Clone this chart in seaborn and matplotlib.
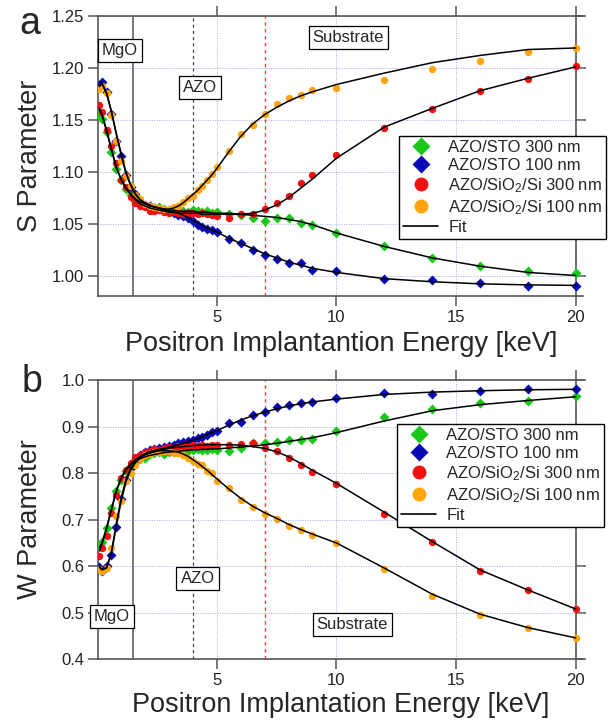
import numpy as np
import pandas as pd
import matplotlib
matplotlib.use("Agg")
import matplotlib.pyplot as plt
from matplotlib.lines import Line2D
import seaborn as sns

# ---------------- data ----------------
energy = [0.1, 0.2, 0.4, 0.6, 0.8, 1.0, 1.2, 1.4, 1.6, 1.8, 2.0, 2.2, 2.4, 2.6, 2.8,
          3.0, 3.2, 3.4, 3.6, 3.8, 4.0, 4.2, 4.4, 4.6, 4.8, 5.0, 5.5, 6.0, 6.5, 7.0,
          7.5, 8.0, 8.5, 9.0, 10, 12, 14, 16, 18, 20]

labels = ["AZO/STO 300 nm", "AZO/STO 100 nm",
          "AZO/SiO$_2$/Si 300 nm", "AZO/SiO$_2$/Si 100 nm"]

# S parameter, measured
S_sto300 = [1.156, 1.151, 1.138, 1.119, 1.103, 1.092, 1.083, 1.078, 1.072, 1.069, 1.067, 1.066, 1.065, 1.066, 1.064,
            1.063, 1.062, 1.063, 1.062, 1.061, 1.063, 1.062, 1.061, 1.062, 1.060, 1.061, 1.059, 1.058, 1.055, 1.053,
            1.055, 1.055, 1.051, 1.049, 1.041, 1.028, 1.017, 1.009, 1.004, 1.002]
S_sto100 = [1.184, 1.186, 1.177, 1.156, 1.130, 1.115, 1.097, 1.085, 1.079, 1.071, 1.068, 1.067, 1.065, 1.064, 1.063,
            1.062, 1.060, 1.058, 1.057, 1.055, 1.053, 1.049, 1.047, 1.045, 1.044, 1.042, 1.035, 1.031, 1.025, 1.020,
            1.016, 1.012, 1.012, 1.005, 1.004, 0.997, 0.996, 0.993, 0.990, 0.990]
S_si300 = [1.164, 1.158, 1.140, 1.125, 1.108, 1.092, 1.085, 1.076, 1.070, 1.067, 1.066, 1.062, 1.062, 1.063, 1.061,
           1.060, 1.061, 1.060, 1.059, 1.060, 1.060, 1.059, 1.060, 1.059, 1.058, 1.057, 1.055, 1.059, 1.059, 1.064,
           1.070, 1.077, 1.089, 1.097, 1.116, 1.142, 1.160, 1.1775, 1.1895, 1.2015]
S_si100 = [1.180, 1.183, 1.176, 1.155, 1.130, 1.110, 1.096, 1.086, 1.078, 1.074, 1.069, 1.067, 1.066, 1.065, 1.064,
           1.064, 1.066, 1.067, 1.071, 1.075, 1.077, 1.082, 1.086, 1.092, 1.098, 1.105, 1.120, 1.136, 1.145, 1.156,
           1.165, 1.171, 1.174, 1.179, 1.181, 1.188, 1.199, 1.207, 1.215, 1.219]

# S parameter, fits
S_fit_sto300 = [1.160, 1.155, 1.139, 1.121, 1.104, 1.093, 1.085, 1.079, 1.074, 1.071, 1.069, 1.067, 1.066, 1.065, 1.064,
                1.063, 1.063, 1.062, 1.062, 1.062, 1.062, 1.061, 1.061, 1.061, 1.060, 1.060, 1.060, 1.059, 1.058, 1.057,
                1.056, 1.054, 1.052, 1.049, 1.041, 1.028, 1.017, 1.009, 1.003, 1.000]
S_fit_sto100 = [1.183, 1.186, 1.176, 1.158, 1.137, 1.117, 1.099, 1.087, 1.078, 1.073, 1.070, 1.068, 1.066, 1.065, 1.063,
                1.062, 1.061, 1.060, 1.058, 1.056, 1.053, 1.051, 1.048, 1.046, 1.044, 1.042, 1.036, 1.031, 1.026, 1.021,
                1.017, 1.013, 1.010, 1.007, 1.003, 0.997, 0.994, 0.992, 0.991, 0.9905]
S_fit_si300 = [1.161, 1.156, 1.140, 1.122, 1.105, 1.093, 1.084, 1.078, 1.073, 1.069, 1.067, 1.065, 1.064, 1.063, 1.062,
               1.061, 1.061, 1.060, 1.060, 1.060, 1.060, 1.060, 1.059, 1.059, 1.059, 1.059, 1.059, 1.059, 1.060, 1.063,
               1.068, 1.075, 1.084, 1.093, 1.113, 1.143, 1.161, 1.178, 1.190, 1.201]
S_fit_si100 = [1.182, 1.185, 1.175, 1.158, 1.137, 1.118, 1.100, 1.088, 1.079, 1.073, 1.070, 1.067, 1.066, 1.065, 1.064,
               1.064, 1.065, 1.067, 1.070, 1.074, 1.078, 1.082, 1.087, 1.092, 1.097, 1.103, 1.119, 1.134, 1.146, 1.155,
               1.162, 1.168, 1.173, 1.177, 1.184, 1.195, 1.205, 1.212, 1.2177, 1.2192]

# W parameter, measured
W_sto300 = [0.644, 0.653, 0.682, 0.725, 0.762, 0.785, 0.805, 0.815, 0.828, 0.830, 0.833, 0.840, 0.843, 0.846, 0.842,
            0.845, 0.848, 0.846, 0.850, 0.848, 0.850, 0.851, 0.850, 0.849, 0.852, 0.850, 0.848, 0.855, 0.864, 0.8655,
            0.8677, 0.871, 0.871, 0.874, 0.8906, 0.9213, 0.9378, 0.950, 0.955, 0.9657]
W_sto100 = [0.598, 0.590, 0.600, 0.625, 0.685, 0.745, 0.785, 0.812, 0.826, 0.838, 0.845, 0.850, 0.851, 0.853, 0.857,
            0.858, 0.860, 0.864, 0.866, 0.869, 0.871, 0.875, 0.878, 0.882, 0.889, 0.891, 0.907, 0.910, 0.925, 0.931,
            0.943, 0.946, 0.950, 0.9535, 0.961, 0.9714, 0.969, 0.9764, 0.980, 0.980]
W_si300 = [0.622, 0.640, 0.664, 0.714, 0.753, 0.790, 0.807, 0.822, 0.834, 0.838, 0.845, 0.848, 0.852, 0.850, 0.854,
           0.857, 0.855, 0.858, 0.859, 0.857, 0.860, 0.858, 0.861, 0.858, 0.860, 0.861, 0.860, 0.862, 0.864, 0.855,
           0.848, 0.832, 0.818, 0.803, 0.777, 0.7124, 0.653, 0.590, 0.548, 0.508]
W_si100 = [0.594, 0.589, 0.596, 0.640, 0.707, 0.740, 0.782, 0.800, 0.818, 0.830, 0.838, 0.842, 0.845, 0.846, 0.848,
           0.847, 0.844, 0.843, 0.838, 0.832, 0.826, 0.820, 0.8176, 0.805, 0.800, 0.782, 0.768, 0.742, 0.728, 0.7124,
           0.702, 0.687, 0.678, 0.667, 0.6495, 0.594, 0.537, 0.496, 0.468, 0.446]

# W parameter, fits
W_fit_sto300 = [0.640, 0.650, 0.683, 0.722, 0.760, 0.787, 0.806, 0.818, 0.826, 0.831, 0.835, 0.838, 0.840, 0.842, 0.844,
                0.845, 0.846, 0.847, 0.848, 0.849, 0.850, 0.850, 0.851, 0.851, 0.852, 0.852, 0.854, 0.856, 0.858, 0.861,
                0.864, 0.868, 0.872, 0.876, 0.887, 0.912, 0.934, 0.947, 0.956, 0.964]
W_fit_sto100 = [0.598, 0.592, 0.596, 0.630, 0.690, 0.745, 0.785, 0.810, 0.826, 0.836, 0.842, 0.846, 0.849, 0.851, 0.853,
                0.856, 0.858, 0.861, 0.864, 0.867, 0.871, 0.874, 0.878, 0.883, 0.887, 0.891, 0.903, 0.914, 0.923, 0.931,
                0.938, 0.944, 0.949, 0.953, 0.959, 0.969, 0.974, 0.977, 0.979, 0.980]
W_fit_si300 = [0.633, 0.646, 0.681, 0.721, 0.761, 0.790, 0.808, 0.820, 0.829, 0.835, 0.839, 0.843, 0.846, 0.849, 0.851,
               0.853, 0.855, 0.856, 0.857, 0.858, 0.859, 0.860, 0.860, 0.861, 0.861, 0.861, 0.861, 0.860, 0.857, 0.853,
               0.846, 0.835, 0.821, 0.806, 0.778, 0.716, 0.653, 0.592, 0.549, 0.508]
W_fit_si100 = [0.600, 0.594, 0.597, 0.628, 0.685, 0.738, 0.780, 0.806, 0.822, 0.833, 0.840, 0.844, 0.846, 0.848, 0.848,
               0.848, 0.847, 0.845, 0.841, 0.836, 0.829, 0.822, 0.814, 0.806, 0.797, 0.788, 0.766, 0.746, 0.729, 0.715,
               0.703, 0.690, 0.679, 0.669, 0.650, 0.596, 0.540, 0.497, 0.468, 0.446]

x_ticks = [5, 10, 15, 20]
S_ticks = [1.00, 1.05, 1.10, 1.15, 1.20, 1.25]
W_ticks = [0.4, 0.5, 0.6, 0.7, 0.8, 0.9, 1.0]
layer_bounds = [1.5, 4.0, 7.0]

# ---------------- style ----------------
sns.set_style("ticks")
plt.rcParams["font.family"] = ["Liberation Sans", "DejaVu Sans"]
plt.rcParams["mathtext.default"] = "regular"

colors = ["#19c819", "#0a0ab4", "#f01010", "#ffa50a"]
markers = ["D", "D", "o", "o"]
sizes = [26, 26, 28, 28]
spine_col = "#555555"

fig = plt.figure(figsize=(6.14, 7.27), dpi=100)
axA = fig.add_axes([0.160, 0.5933, 0.7895, 0.3847])
axB = fig.add_axes([0.160, 0.0931, 0.7895, 0.3842])


def draw_panel(ax, data, fits, ylim, yticks, yfmt):
    for ys, c, m, s in zip(data, colors, markers, sizes):
        sns.scatterplot(x=energy, y=ys, color=c, marker=m, s=s, linewidth=0,
                        ax=ax, zorder=3, legend=False)
    for f in fits:
        sns.lineplot(x=energy, y=f, color="black", lw=1.1, ax=ax, zorder=4,
                     estimator=None, sort=False, legend=False)
    ax.set_xlim(0.05, 20.3)
    ax.set_ylim(*ylim)
    ax.set_xticks(x_ticks)
    ax.set_yticks(yticks)
    ax.set_yticklabels([yfmt.format(v) for v in yticks])
    # grid
    for v in yticks:
        ax.axhline(v, color="#a8a8e8", lw=0.7, ls=(0, (1, 1.5)), zorder=1)
    for v in x_ticks[:-1]:
        ax.axvline(v, color="#a8a8e8", lw=0.7, ls=(0, (1, 1.5)), zorder=1)
    # layer boundaries
    ax.axvline(layer_bounds[0], color="#555555", lw=1.1, zorder=2)
    ax.axvline(layer_bounds[1], color="#444444", lw=0.9, ls=(0, (2.5, 2.5)), zorder=2)
    ax.axvline(layer_bounds[2], color="#ff3a3a", lw=1.0, ls=(0, (2.5, 2.5)), zorder=2)
    for side in ["left", "bottom", "top", "right"]:
        ax.spines[side].set_visible(True)
        ax.spines[side].set_color(spine_col)
        ax.spines[side].set_linewidth(1.2)
    ax.spines["right"].set_position(("data", 20))
    ax.tick_params(axis="both", which="major", direction="out", length=7, width=1.1,
                   color=spine_col, labelsize=12, labelcolor="#222222", pad=3,
                   top=True, right=True, labeltop=False, labelright=False)
    ax.set_xlabel("")
    ax.set_ylabel("")


draw_panel(axA, [S_sto300, S_sto100, S_si300, S_si100],
           [S_fit_sto300, S_fit_sto100, S_fit_si300, S_fit_si100],
           (0.9806, 1.25), S_ticks, "{:.2f}")
draw_panel(axB, [W_sto300, W_sto100, W_si300, W_si100],
           [W_fit_sto300, W_fit_sto100, W_fit_si300, W_fit_si100],
           (0.4, 1.0), W_ticks, "{:.1f}")

box = dict(boxstyle="square,pad=0.25", facecolor="white", edgecolor="black", lw=0.9)
axA.text(0.96, 1.217, "MgO", fontsize=12, ha="center", va="center", bbox=box, zorder=6)
axA.text(4.3, 1.181, "AZO", fontsize=12, ha="center", va="center", bbox=box, zorder=6)
axA.text(10.5, 1.2296, "Substrate", fontsize=12, ha="center", va="center", bbox=box, zorder=6)
axB.text(0.62, 0.492, "MgO", fontsize=12, ha="center", va="center", bbox=box, zorder=6)
axB.text(4.2, 0.574, "AZO", fontsize=12, ha="center", va="center", bbox=box, zorder=6)
axB.text(10.67, 0.475, "Substrate", fontsize=12, ha="center", va="center", bbox=box, zorder=6)

handles = []
for c, m, lab in zip(colors, markers, labels):
    handles.append(Line2D([], [], ls="none", marker=m, markersize=9 if m == "D" else 10,
                          markerfacecolor=c, markeredgecolor="none", label=lab))
handles.append(Line2D([], [], color="black", lw=1.2, label="Fit"))

for anchor in [(0.650, 0.813), (0.6466, 0.4168)]:
    leg = fig.legend(handles=handles, loc="upper left", bbox_to_anchor=anchor,
                     bbox_transform=fig.transFigure, fontsize=12, frameon=True,
                     fancybox=False, framealpha=1, edgecolor="black", borderpad=0.25,
                     labelspacing=0.18, handlelength=2.1, handletextpad=0.6,
                     borderaxespad=0)
    leg.get_frame().set_linewidth(1.0)

fig.text(30 / 614, 0.7856, "S Parameter", rotation=90, ha="center", va="center", fontsize=19.5)
fig.text(30 / 614, 0.2854, "W Parameter", rotation=90, ha="center", va="center", fontsize=19.5)
fig.text(0.555, 0.527, "Positron Implantantion Energy [keV]", ha="center", va="center", fontsize=19.5)
fig.text(0.555, 0.030, "Positron Implantation Energy [keV]", ha="center", va="center", fontsize=19.5)
fig.text(30 / 614, 1 - 24 / 727, "a", ha="center", va="center", fontsize=27)
fig.text(32 / 614, 1 - 382 / 727, "b", ha="center", va="center", fontsize=27)

fig.savefig("out.png", dpi=100)
